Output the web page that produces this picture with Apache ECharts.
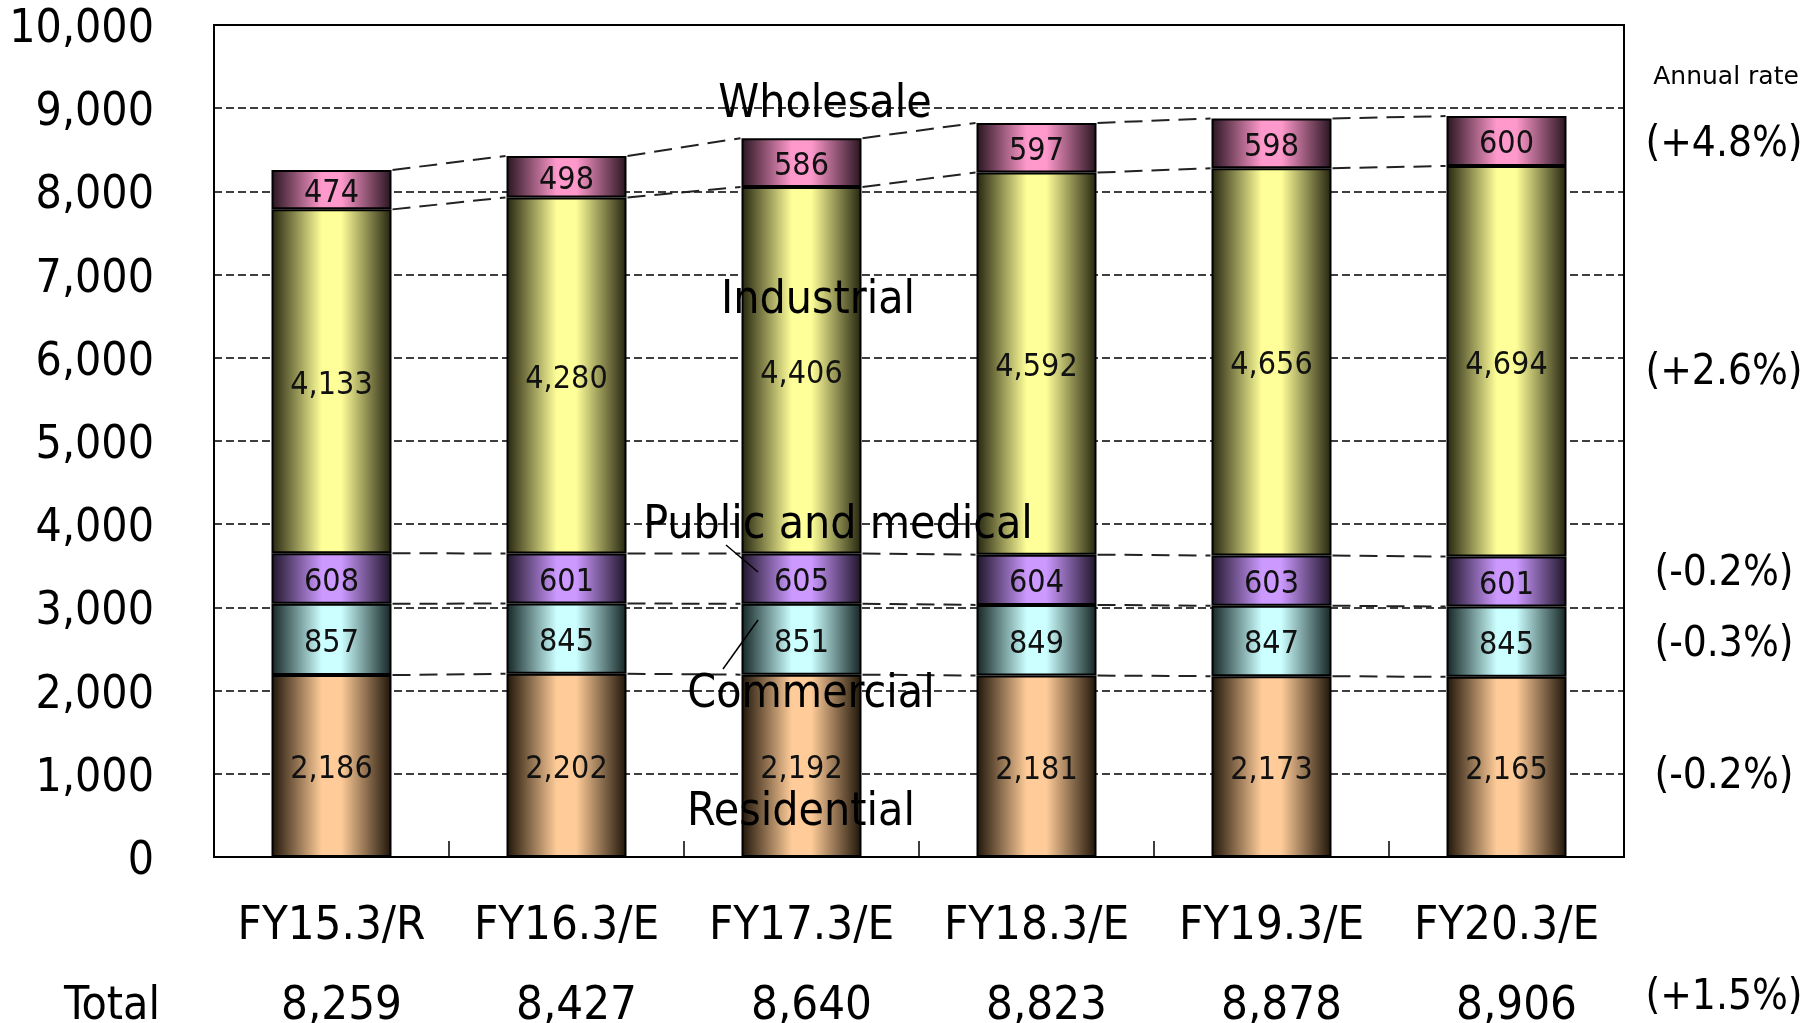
<!DOCTYPE html>
<html>
<head>
<meta charset="utf-8">
<script src="https://cdn.jsdelivr.net/npm/echarts@6/dist/echarts.min.js"></script>
<style>
html,body{margin:0;padding:0;background:#fff;}
#chart{width:1815px;height:1023px;}
</style>
</head>
<body>
<div id="chart"></div>
<script>
// ---- data ----
const categories = ['FY15.3/R','FY16.3/E','FY17.3/E','FY18.3/E','FY19.3/E','FY20.3/E'];
const residential = [2186, 2202, 2192, 2181, 2173, 2165];
const commercial  = [857, 845, 851, 849, 847, 845];
const publicMed   = [608, 601, 605, 604, 603, 601];
const industrial  = [4133, 4280, 4406, 4592, 4656, 4694];
const wholesale   = [474, 498, 586, 597, 598, 600];
const totals      = [8259, 8427, 8640, 8823, 8878, 8906];
const seriesNames = ['Residential','Commercial','Public and medical','Industrial','Wholesale'];
const annualRates = ['(-0.2%)','(-0.3%)','(-0.2%)','(+2.6%)','(+4.8%)'];
const totalRate   = '(+1.5%)';
const yTicks = {min: 0, max: 10000, interval: 1000};

// ---- styling ----
const FONT = "'DejaVu Sans Condensed', 'DejaVu Sans', sans-serif";
const baseColors = ['#ffcc99','#ccffff','#cc99ff','#ffff99','#ff99cc'];
const darkColors = ['#1e1408','#142424','#1e1428','#24240f','#281420'];
const fmt = v => v.toLocaleString('en-US');

function grad(i){
  return new echarts.graphic.LinearGradient(0,0,1,0,[
    {offset:0, color: darkColors[i]},
    {offset:0.42, color: baseColors[i]},
    {offset:0.58, color: baseColors[i]},
    {offset:1, color: darkColors[i]}
  ]);
}

const stacks = [residential, commercial, publicMed, industrial, wholesale];
// cumulative tops for connectors
const cum = stacks.map((s, k) => s.map((v, i) => stacks.slice(0, k + 1).reduce((a, arr) => a + arr[i], 0)));

const barSeries = stacks.map((arr, k) => ({
  name: seriesNames[k],
  type: 'bar',
  stack: 'total',
  barWidth: 120,
  data: arr,
  z: 3,
  itemStyle: {color: grad(k), borderColor: '#000', borderWidth: 2},
  label: {
    show: true, position: 'inside', offset: [0, 4],
    formatter: p => fmt(p.value),
    fontFamily: FONT, fontSize: 32, color: '#111'
  }
}));

const connector = {
  type: 'custom',
  coordinateSystem: 'cartesian2d',
  xAxisIndex: 0, yAxisIndex: 0,
  z: 2,
  silent: true,
  data: categories.slice(0, categories.length - 1).map((c, i) => [i, 0]),
  renderItem: function(params, api){
    const i = api.value(0);
    const half = 61;
    const children = cum.map(levels => {
      const p1 = api.coord([i, levels[i]]);
      const p2 = api.coord([i + 1, levels[i + 1]]);
      return {
        type: 'line',
        shape: {x1: p1[0] + half, y1: p1[1], x2: p2[0] - half, y2: p2[1]},
        style: {stroke: '#222', lineWidth: 2, lineDash: [18, 9]}
      };
    });
    return {type: 'group', children: children};
  }
};

const chart = echarts.init(document.getElementById('chart'), null, {renderer: 'canvas'});

const DY = 5;
function txt(x, y, text, size, family){
  return {type: 'text', x: x, y: y + DY, z: 100,
    style: {text: text, fontFamily: family || FONT, fontSize: size, fill: '#000',
      textAlign: 'center', textVerticalAlign: 'middle'}};
}
function leader(x1, y1, x2, y2){
  return {type: 'line', z: 100, shape: {x1, y1, x2, y2}, style: {stroke: '#000', lineWidth: 1.5}};
}

const option = {
  backgroundColor: '#fff',
  animation: false,
  grid: {left: 214, right: 191, top: 25, bottom: 166, show: true, borderColor: '#000', borderWidth: 2,
    containLabel: false, outerBoundsMode: 'none'},
  xAxis: [{
    type: 'category',
    data: categories,
    axisLine: {show: true, lineStyle: {color: '#000', width: 2}},
    axisTick: {show: true, inside: true, length: 16, alignWithLabel: false, lineStyle: {color: '#000', width: 1.5}},
    axisLabel: {fontFamily: FONT, fontSize: 47, color: '#000', margin: 46, interval: 0}
  }, {
    type: 'category',
    position: 'bottom',
    offset: 80,
    data: totals.map(fmt),
    axisLine: {show: false}, axisTick: {show: false},
    axisLabel: {fontFamily: FONT, fontSize: 47, color: '#000', margin: 46, interval: 0, padding: [0, 0, 0, 20]}
  }],
  yAxis: {
    type: 'value',
    min: yTicks.min, max: yTicks.max, interval: yTicks.interval,
    axisLine: {show: false}, axisTick: {show: false},
    axisLabel: {fontFamily: FONT, fontSize: 46, color: '#000', margin: 60,
      verticalAlign: 'top', lineHeight: 10, formatter: v => fmt(v)},
    splitLine: {show: true, lineStyle: {color: '#000', width: 1.5, type: [8, 4]}}
  },
  series: [...barSeries, connector],
  graphic: [
    txt(1726, 72, 'Annual rate', 25, "'DejaVu Sans', sans-serif"),
    txt(1724, 140, annualRates[4], 42),
    txt(1724, 368, annualRates[3], 42),
    txt(1724, 569, annualRates[2], 42),
    txt(1724, 640, annualRates[1], 42),
    txt(1724, 772, annualRates[0], 42),
    txt(1724, 993, totalRate, 42),
    txt(112, 1002, 'Total', 46),
    txt(825, 100, seriesNames[4], 46),
    txt(818, 296, seriesNames[3], 46),
    txt(838, 521, seriesNames[2], 46),
    txt(811, 690, seriesNames[1], 46),
    txt(801, 808, seriesNames[0], 46),
    leader(726, 545, 758, 572),
    leader(723, 669, 758, 620)
  ]
};
chart.setOption(option);
</script>
</body>
</html>
